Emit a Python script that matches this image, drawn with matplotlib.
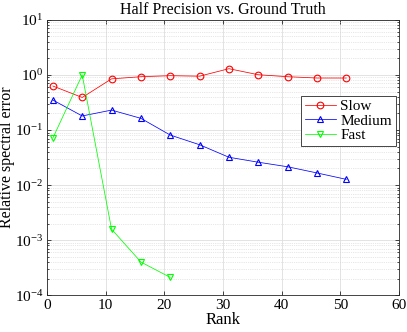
import matplotlib.pyplot as plt
import numpy as np
from matplotlib.ticker import LogLocator, MultipleLocator

plt.rcParams['font.family'] = ['Liberation Serif', 'DejaVu Serif']
plt.rcParams['mathtext.fontset'] = 'stix'

rank = [1, 6, 11, 16, 21, 26, 31, 36, 41, 46, 51]
slow = [0.63, 0.39, 0.85, 0.93, 0.97, 0.95, 1.30, 1.01, 0.93, 0.88, 0.88]
medium = [0.35, 0.18, 0.23, 0.163, 0.081, 0.054, 0.032, 0.026, 0.0215, 0.0166, 0.0127]
fast_rank = [1, 6, 11, 16, 21]
fast = [0.0716, 1.0, 0.00158, 0.0004, 0.00021]

fig = plt.figure(figsize=(4.07, 3.32), dpi=100)
ax = fig.add_axes([0.1155, 0.111, 0.865, 0.829])

ax.semilogy(rank, slow, '-o', color='red', lw=0.55, ms=4.8, mfc='none', mew=0.8, label='Slow')
ax.semilogy(rank, medium, '-^', color='blue', lw=0.55, ms=4.8, mfc='none', mew=0.8, label='Medium')
ax.semilogy(fast_rank, fast, '-v', color='lime', lw=0.55, ms=4.8, mfc='none', mew=0.8, label='Fast')

ax.set_xlim(0, 60)
ax.set_ylim(1e-4, 1e1)
ax.xaxis.set_major_locator(MultipleLocator(10))
ax.yaxis.set_major_locator(LogLocator(base=10, numticks=10))
ax.yaxis.set_minor_locator(LogLocator(base=10, subs=np.arange(2, 10), numticks=20))

ax.grid(True, which='major', color='#dedede', lw=0.6, ls='-')
ax.grid(True, which='minor', axis='y', color='#d0d0d0', lw=0.5, ls=':')
ax.set_axisbelow(True)
ax.tick_params(which='both', direction='in', top=True, right=True, labelsize=11, width=0.5)
ax.tick_params(which='major', length=3, pad=2.5)
ax.tick_params(which='minor', length=1.5)
for s in ax.spines.values():
    s.set_linewidth(0.6)
    s.set_color('#262626')

ax.set_title('Half Precision vs. Ground Truth', fontsize=11.5, pad=4)
ax.set_xlabel('Rank', fontsize=12, labelpad=0)
ax.set_ylabel('Relative spectral error', fontsize=11.5)
ax.yaxis.set_label_coords(-0.092, 0.5)

leg = ax.legend(loc='upper left', bbox_to_anchor=(0.722, 0.725), fontsize=11,
                fancybox=False, framealpha=1, edgecolor='#262626',
                handlelength=2.0, handletextpad=0.3, borderpad=0.25, labelspacing=0.05,
                borderaxespad=0)
leg.get_frame().set_linewidth(0.6)

fig.savefig('out.png', dpi=100)
